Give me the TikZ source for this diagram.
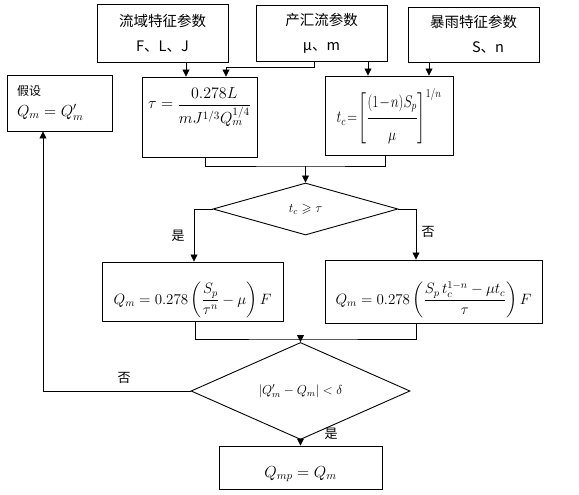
\RequirePackage{fix-cm}
\documentclass[tikz,border=0pt]{standalone}
\usepackage{amsmath,amssymb}
\usepackage{graphicx}
\usepackage{fontspec}
\newfontfamily\cjk{Noto Sans CJK SC}
\usetikzlibrary{shapes.geometric,arrows.meta,positioning}

\begin{document}
\begin{tikzpicture}[x=1pt, y=-1pt,
  box/.style={rectangle, draw, line width=0.9pt, inner sep=0pt},
  inbox/.style={box, align=center, minimum width=131pt,
                font=\cjk\fontsize{14.5}{25}\selectfont},
  fbox/.style={box, font=\fontsize{15}{18}\selectfont},
  dec/.style={diamond, draw, line width=0.9pt, inner sep=0pt,
              font=\fontsize{13}{15}\selectfont},
  arr/.style={-{Triangle[length=7pt,width=7pt]}, line width=0.8pt},
  ln/.style={line width=0.8pt},
  lab/.style={font=\cjk\fontsize{13}{13}\selectfont}]

\useasboundingbox (0,0) rectangle (579,495);

% parameter boxes
\node[inbox, minimum height=58pt] (basin) at (162.5,33) {流域特征参数\\F、L、J};
\node[inbox, minimum height=56pt] (runoff) at (321.5,33) {产汇流参数\\μ、m};
\node[inbox, minimum height=55pt] (storm) at (473.5,34.5) {暴雨特征参数\\\hspace*{2em}S、n};

% assumption
\node[box, align=left, text width=85pt, minimum width=105pt, minimum height=56pt,
      font=\fontsize{16}{20}\selectfont] (hyp) at (59.5,103)
  {{\cjk\fontsize{12}{14}\selectfont 假设}\\[1pt]$Q_m = Q'_m$};

% concentration time and lag
\node[fbox, minimum width=115pt, text height=32pt, text depth=48pt,
      font=\fontsize{16}{19}\selectfont] (tau) at (199.5,117)
  {$\tau = \dfrac{0.278L}{mJ^{1/3}Q_m^{1/4}}$};
\node[fbox, minimum width=128pt, text height=47pt, text depth=32pt,
      font=\fontsize{17}{20}\selectfont] (tc) at (389,115.5)
  {\scalebox{0.8}[1]{$t_c\!=\!\left[\dfrac{(1\!-\!n)S_p\rule[-9pt]{0pt}{9pt}}{\rule{0pt}{19pt}\mu}\right]^{1/n}$}};

\node[dec, minimum width=185pt, minimum height=52pt] (cmp) at (305.5,209) {$t_c \geqslant \tau$};

% peak flow
\node[fbox, minimum width=181pt, text height=42pt, text depth=17pt] (qa) at (192.5,291.5)
  {$Q_m = 0.278\left(\dfrac{S_p}{\tau^n} - \mu\right)F$};
\node[fbox, minimum width=217pt, text height=44pt, text depth=19pt] (qb) at (433.5,291.5)
  {$Q_m = 0.278\left(\dfrac{S_p\,t_c^{1-n} - \mu t_c}{\tau}\right)F$};

\node[dec, minimum width=219pt, minimum height=66pt] (conv) at (300.5,391)
  {$\lvert Q'_m - Q_m\rvert < \delta$};
\node[fbox, minimum width=163pt, text height=31pt, text depth=12pt,
      font=\fontsize{16}{19}\selectfont] (fin) at (300.5,467.5)
  {$Q_{mp} = Q_m$};

% connectors
\coordinate (a1) at ([xshift=23.5pt]basin.south);
\draw[arr] (a1) -- (a1 |- tau.north);
\draw[arr] ([xshift=-7.5pt]runoff.south) -- ++(0,6) -| ([xshift=26.5pt]tau.north);
\coordinate (b2) at ([xshift=46.5pt]runoff.south);
\draw[arr] (b2) -- (b2 |- tc.north);
\coordinate (c1) at ([xshift=-44.5pt]storm.south);
\draw[arr] (c1) -- (c1 |- tc.north);

\coordinate (j1) at (305.5,166);
\draw[ln] ([xshift=5.5pt]tau.south) |- (j1) -| ([xshift=-4pt]tc.south);
\draw[arr] (j1) -- (cmp.north);

\draw[arr] (cmp.west) -| ([xshift=1.5pt]qa.north);
\draw[arr] (cmp.east) -| ([xshift=-17.5pt]qb.north);
\node[lab] (yes1) at (178,236) {是};
\node[lab] (no1) at (428,232) {否};

\coordinate (j2) at (300.5,339);
\draw[ln] ([xshift=2.5pt]qa.south) |- (j2) -| ([xshift=-17.5pt]qb.south);
\draw[arr] (j2) -- (conv.north);

\draw[arr] (conv.west) -| ([xshift=-16.5pt]hyp.south);
\node[lab] (no2) at (124,378) {否};
\draw[arr] (conv.south) -- (fin.north);
\node[lab] (yes2) at (331,434) {是};
\end{tikzpicture}
\end{document}
